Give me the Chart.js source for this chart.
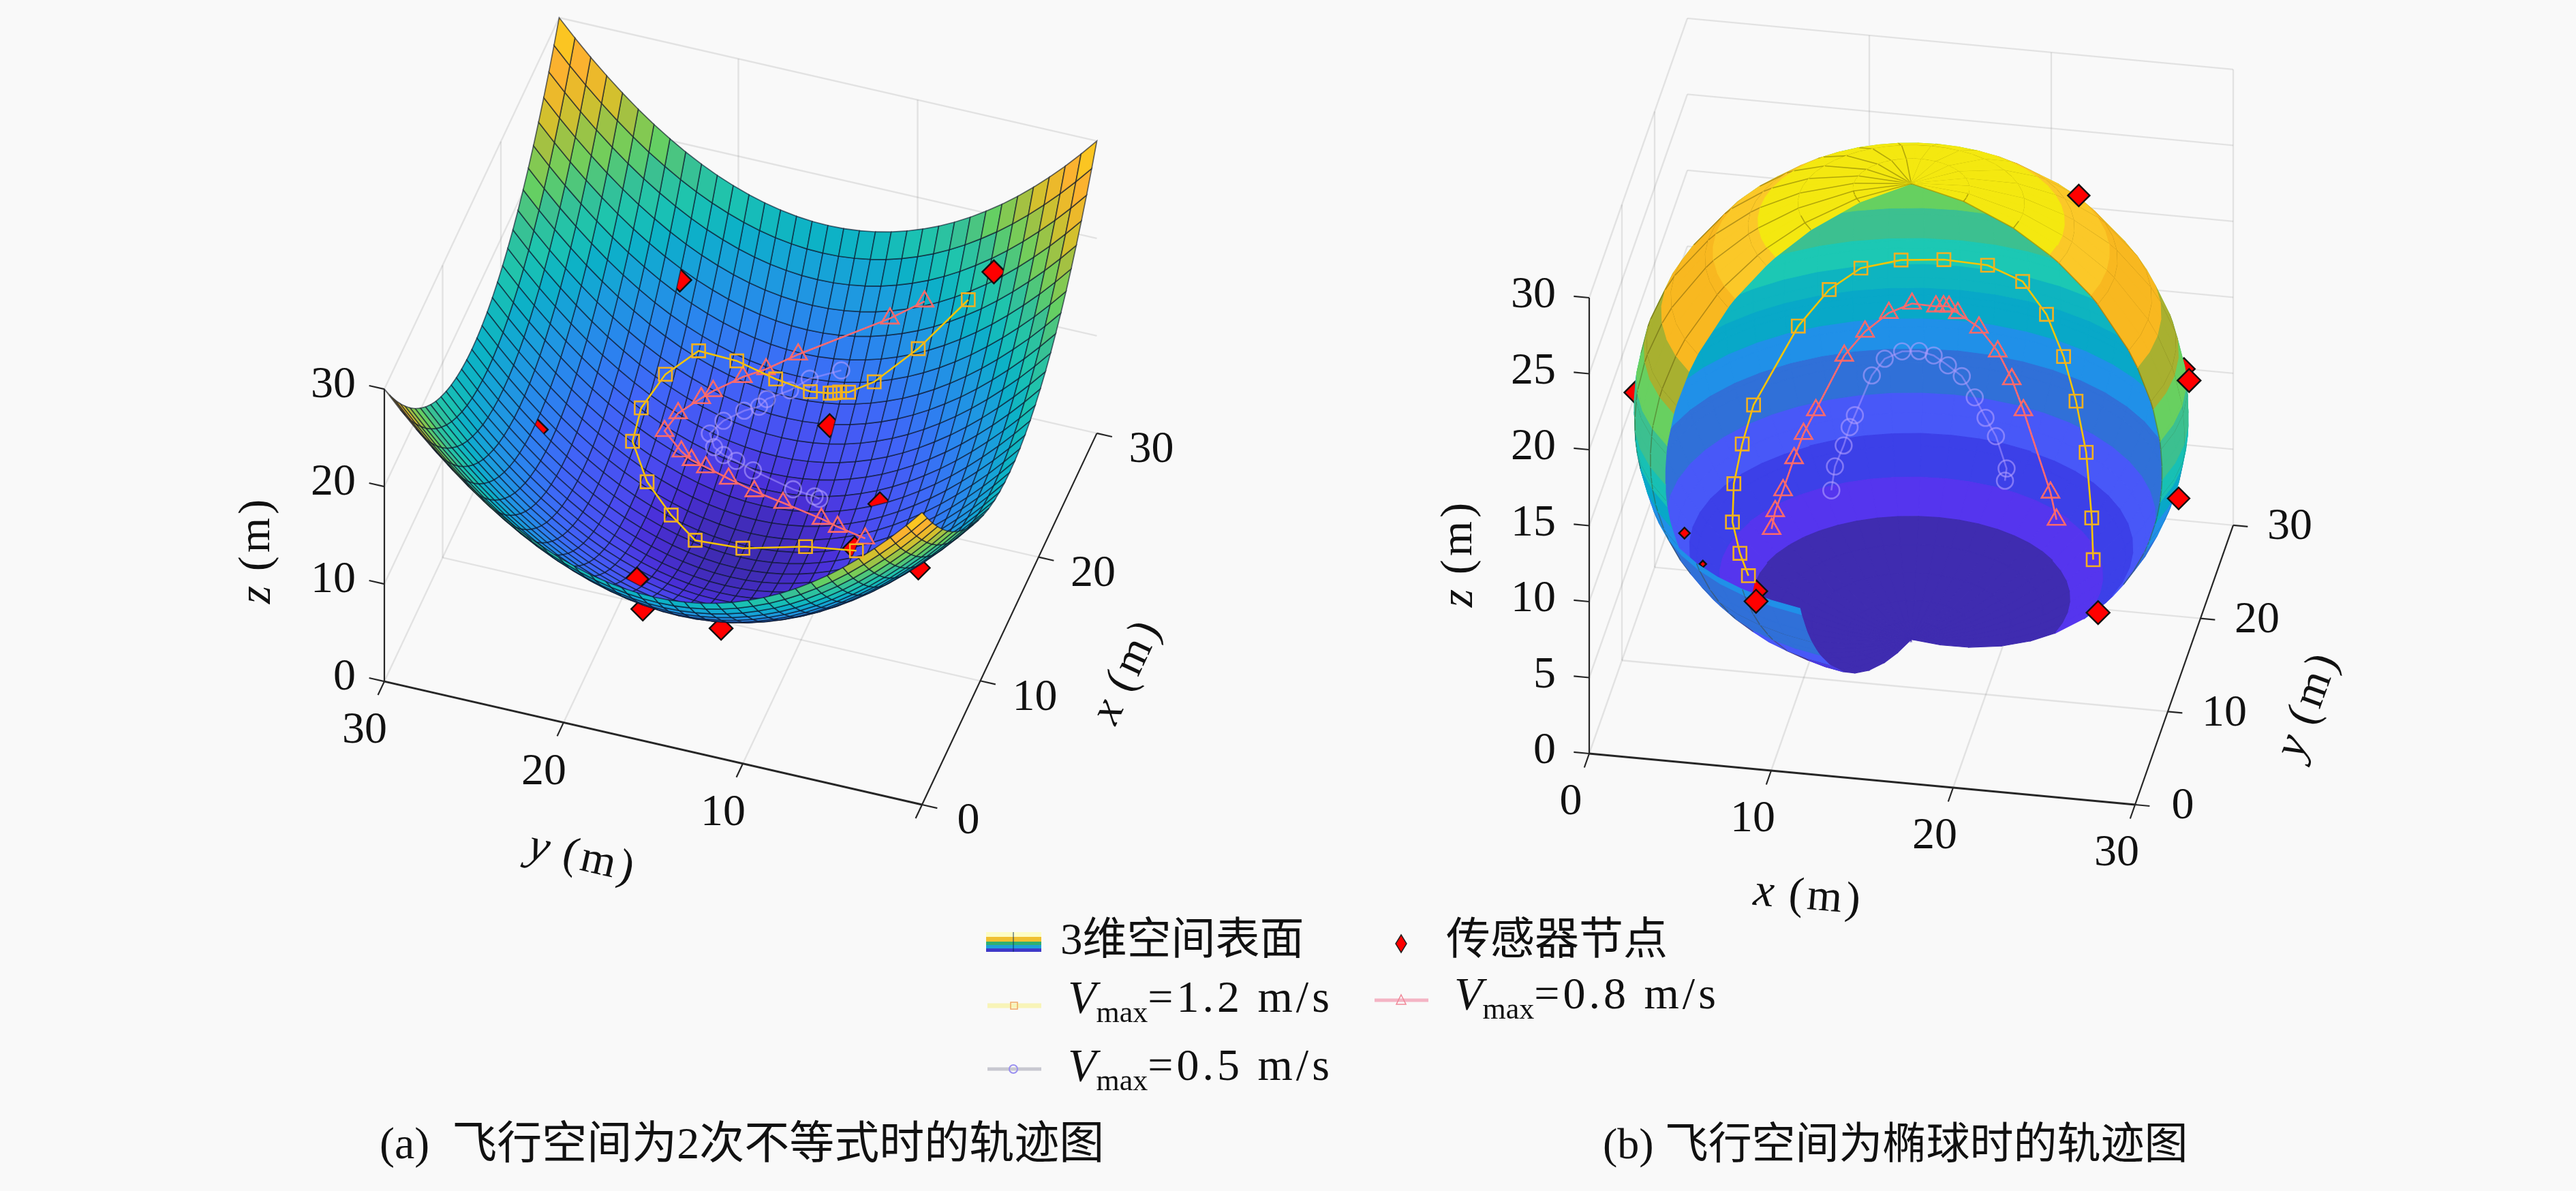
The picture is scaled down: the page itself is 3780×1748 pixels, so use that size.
<!DOCTYPE html>
<html>
<head>
<meta charset="utf-8">
<title>trajectories</title>
<style>
html, body { margin: 0; padding: 0; background: #f9f9f9; }
canvas { display: block; }
</style>
</head>
<body>
<canvas id="trajectory-chart" width="3780" height="1748"></canvas>
<script src="https://cdn.jsdelivr.net/npm/chart.js@4"></script>
<script>
// axis ticks
const ticksA = [0, 10, 20, 30];
const ticksBz = [0, 5, 10, 15, 20, 25, 30];
const ticksB = [0, 10, 20, 30];

// (a) bowl surface: grid positions and height profile read along one edge (m)
const bowlGrid = [0, 0.88, 1.76, 2.65, 3.53, 4.41, 5.29, 6.18, 7.06, 7.94, 8.82, 9.71, 10.59, 11.47, 12.35, 13.24, 14.12, 15, 15.88, 16.76, 17.65, 18.53, 19.41, 20.29, 21.18, 22.06, 22.94, 23.82, 24.71, 25.59, 26.47, 27.35, 28.24, 29.12, 30];
const bowlProfile = [15, 13.29, 11.68, 10.17, 8.77, 7.47, 6.28, 5.19, 4.2, 3.32, 2.54, 1.87, 1.3, 0.83, 0.47, 0.21, 0.05, 0, 0.05, 0.21, 0.47, 0.83, 1.3, 1.87, 2.54, 3.32, 4.2, 5.19, 6.28, 7.47, 8.77, 10.17, 11.68, 13.29, 15];
const bowlColorZ = [0, 1.5, 3, 6, 9, 12, 14, 16, 18.3, 20, 22.4, 24, 26.5, 28.5, 30];
const bowlColors = ['#3e2bb0', '#4a2fd8', '#4a4cf0', '#4065f8', '#2a85ee', '#1a9fdc', '#0cb0c8', '#1cc4b0', '#3cc090', '#68d060', '#a8c040', '#e0c028', '#fbb030', '#fbc820', '#f4ec10'];

// (a) trajectories
const aSquareX = [27.0, 25.8, 24.7, 24.3, 24.3, 24.3, 24.2, 24.2, 24.4, 24.5, 24.1, 22.4, 20.4, 18.6, 17.1, 16.0, 15.2, 15.7, 16.3, 15.5];
const aSquareY = [6.2, 8.6, 10.7, 12.0, 12.5, 12.8, 13.0, 14.1, 16.1, 18.3, 20.3, 21.6, 22.3, 22.2, 20.9, 19.2, 17.6, 15.1, 11.8, 8.7];
const aSquareZ = [14.9, 10.4, 7.5, 6.4, 6.2, 6.0, 6.0, 5.7, 5.9, 6.7, 7.4, 6.6, 5.4, 4.3, 2.6, 1.3, 0.4, 0.0, 0.8, 2.7];
const aTriangleX = [27.5, 27.1, 25.5, 24.6, 24.0, 22.9, 22.4, 21.2, 20.1, 19.6, 19.5, 19.5, 19.4, 19.2, 18.9, 18.1, 17.5, 16.4];
const aTriangleY = [8.8, 10.6, 15.2, 16.7, 17.8, 19.1, 19.6, 20.5, 20.9, 19.8, 19.2, 18.4, 17.1, 15.6, 13.9, 11.5, 10.4, 8.5];
const aTriangleZ = [13.0, 11.0, 7.4, 6.4, 5.9, 5.3, 5.0, 4.6, 4.0, 3.0, 2.5, 2.1, 1.6, 1.2, 1.1, 1.5, 1.9, 2.9];
const aCircleX = [25.2, 24.7, 24.1, 23.5, 23.1, 22.7, 21.9, 21.1, 20.6, 20.4, 20.4, 20.2, 19.7, 19.4, 19.3];
const aCircleY = [12.7, 14.3, 15.2, 16.3, 16.6, 17.3, 18.2, 18.7, 18.3, 17.7, 17.0, 16.0, 13.6, 12.3, 12.0];
const aCircleZ = [7.2, 6.3, 5.5, 4.9, 4.5, 4.3, 3.9, 3.4, 2.8, 2.5, 2.2, 1.9, 1.6, 1.8, 1.8];
const aNodeX = [26.1, 27.4, 15.0, 22.9, 18.6, 15.8, 9.2, 9.6, 9.5, 17.2];
const aNodeY = [22.0, 4.9, 26.4, 12.6, 8.4, 8.9, 18.9, 18.7, 14.3, 5.8];
const aNodeZ = [11.4, 17.8, 8.3, 4.5, 3.7, 2.5, 3.5, 0, 0, 0];

// (b) ellipsoid: ring heights, ring radii and longitude table
const ringZ = [30, 29.67, 28.7, 27.5, 27.14, 25.5, 25.04, 22.5, 21.5, 19.5, 19, 17.2, 17, 16.5, 15.4, 14.5, 13.85, 13.4, 13, 12, 11.5, 10.3, 10, 9.5, 8, 7, 6.06, 5.5, 4.2, 2.73, 1.8, 1, 0.4, 0.1, 0];
const ringR = [0, 3.13, 6.11, 8.29, 8.81, 10.72, 11.14, 12.99, 13.52, 14.31, 14.46, 14.84, 14.87, 14.92, 14.99, 14.99, 14.96, 14.91, 14.87, 14.7, 14.58, 14.24, 14.14, 13.96, 13.27, 12.69, 12.04, 11.61, 10.41, 8.63, 7.13, 5.39, 3.44, 1.73, 0];
const gridRingZ = [29.67, 28.7, 27.14, 25.04, 22.5, 19.5, 16.5, 13.4, 10.3, 7, 4.2, 1.8];
const lonCos = [1, 0.9914, 0.9659, 0.9239, 0.866, 0.7934, 0.7071, 0.6088, 0.5, 0.3827, 0.2588, 0.1305, 0, -0.1305, -0.2588, -0.3827, -0.5, -0.6088, -0.7071, -0.7934, -0.866, -0.9239, -0.9659, -0.9914, -1, -0.9914, -0.9659, -0.9239, -0.866, -0.7934, -0.7071, -0.6088, -0.5, -0.3827, -0.2588, -0.1305, 0, 0.1305, 0.2588, 0.3827, 0.5, 0.6088, 0.7071, 0.7934, 0.866, 0.9239, 0.9659, 0.9914];
// wedge removed from the shell, as longitude cell indices, below and above z = 10
const cutSplitZ = 10;
const cutFrom = [34, 29];
const cutTo = [46, 46];
const insideBandZ = [2.73, 4.2, 6.06, 8, 10.3, 12, 13.85, 15.4, 17.2, 19.5, 30];
const insideColors = ['#3f2cb0', '#5535ee', '#3c40e8', '#4858f8', '#3070d8', '#2090e8', '#08a8c8', '#0eb4c0', '#1cc8b4', '#3cc090', '#66d060'];
const outsideBandZ = [2.73, 4.2, 5.5, 9.5, 11.5, 13, 14.5, 17, 19, 21.5, 25.5, 27.5, 30];
const outsideColors = ['#3f2cb0', '#4a3ae0', '#4858f8', '#3070d8', '#2090e8', '#08a8c8', '#18c0b4', '#3cc090', '#68d060', '#a8b030', '#f8b820', '#fbc828', '#f4e810'];

// (b) trajectories
const bSquareX = [6.0, 5.3, 4.6, 4.3, 4.4, 4.7, 6.6, 8.1, 9.7, 11.8, 14.1, 16.5, 18.5, 19.9, 21.0, 21.9, 22.8, 23.7, 24.3];
const bSquareY = [15.3, 16.6, 18.2, 20.3, 22.3, 24.1, 27.2, 28.3, 29.1, 29.7, 30.0, 30.0, 29.6, 29.1, 28.2, 27.0, 25.1, 21.8, 18.9];
const bSquareZ = [3.0, 3.6, 4.6, 5.8, 7.2, 8.7, 12.2, 14.1, 15.2, 15.6, 15.7, 15.6, 15.0, 13.3, 11.2, 9.1, 7.0, 4.8, 3.9];
const bTriangleX = [6.5, 6.5, 6.7, 7.0, 7.3, 7.8, 9.0, 10.0, 11.2, 12.4, 13.7, 14.1, 14.4, 14.9, 16.1, 17.2, 18.1, 18.9, 21.0, 21.6];
const bTriangleY = [19.6, 20.7, 22.0, 23.7, 24.9, 25.9, 27.9, 28.7, 29.3, 29.7, 29.8, 29.9, 29.9, 29.8, 29.6, 29.2, 28.5, 27.6, 24.2, 22.7];
const bTriangleZ = [3.5, 4.0, 4.6, 5.7, 6.6, 7.6, 10.1, 11.3, 12.3, 12.8, 12.7, 12.7, 12.7, 12.4, 11.7, 10.5, 9.2, 7.8, 4.7, 3.9];
const bCircleX = [9.1, 9.1, 9.4, 9.6, 9.8, 10.5, 11.1, 12.0, 12.9, 13.7, 14.5, 15.3, 16.1, 16.8, 17.5, 18.3, 18.3];
const bCircleY = [23.4, 24.5, 25.5, 26.2, 26.7, 28.0, 28.6, 28.9, 29.1, 29.1, 29.0, 28.8, 28.3, 27.7, 27.0, 25.8, 25.3];
const bCircleZ = [4.0, 4.9, 5.7, 6.5, 7.0, 8.9, 9.7, 10.1, 10.1, 9.9, 9.4, 8.9, 7.9, 7.0, 6.3, 5.0, 4.5];
const bNodeX = [23.4, 30.2, 30.2, 4.3, 5.4, 8.9, 26.6, 29.2, 0.1, 6.6];
const bNodeY = [19.5, 15.4, 12.2, 5.2, 4.7, 1.5, 7.6, 19.4, 13.5, 14.4];
const bNodeZ = [27.4, 18.5, 12.7, 11.8, 10.2, 10.1, 7.6, 16.7, 15.5, 2.6];
const bNodeRadius = [16, 17, 16, 8, 5, 17, 17, 16, 16, 16];

// camera of each panel, pixels per metre on the page
const viewA = { o: [1353, 1181], ex: [8.55, -18.17], ey: [-26.3, -6.03], ez: [0, -14.3] };
const viewB = { o: [2332, 1106], ex: [26.7, 2.5], ey: [4.8, -13.67], ez: [0, -22.3] };

function project(v, x, y, z) {
    return {
        x: v.o[0] + v.ex[0] * x + v.ey[0] * y + v.ez[0] * z,
        y: v.o[1] + v.ex[1] * x + v.ey[1] * y + v.ez[1] * z
    };
}
// toward the viewer
function depthOf(v, x, y, z) {
    const a = [v.ex[0], v.ey[0], v.ez[0]];
    const b = [-v.ex[1], -v.ey[1], -v.ez[1]];
    return (a[1] * b[2] - a[2] * b[1]) * x + (a[2] * b[0] - a[0] * b[2]) * y + (a[0] * b[1] - a[1] * b[0]) * z;
}
function hexToRgb(h) {
    return [1, 3, 5].map(i => parseInt(h.slice(i, i + 2), 16));
}
function bowlColor(z) {
    let i = 0;
    while (i < bowlColorZ.length - 2 && z > bowlColorZ[i + 1]) i++;
    const t = Math.min(1, (z - bowlColorZ[i]) / (bowlColorZ[i + 1] - bowlColorZ[i]));
    const c0 = hexToRgb(bowlColors[i]), c1 = hexToRgb(bowlColors[i + 1]);
    return 'rgb(' + c0.map((c, k) => Math.round(c + (c1[k] - c) * t)).join(',') + ')';
}
function bandColor(z, bands, colors) {
    let i = 0;
    while (i < bands.length - 1 && z > bands[i]) i++;
    return colors[i];
}
function polygon(points, fill, stroke, width) {
    return {
        data: points, showLine: true, fill: 'shape', backgroundColor: fill,
        borderColor: stroke, borderWidth: width, pointRadius: 0, tension: 0
    };
}
function polyline(points, color, width) {
    return {
        data: points, showLine: true, fill: false, borderColor: color,
        borderWidth: width, pointRadius: 0, tension: 0
    };
}
function zipPoints(v, xs, ys, zs) {
    return xs.map((x, i) => project(v, x, ys[i], zs[i]));
}
function track(v, xs, ys, zs, lineColor, markerColor, style, radius) {
    return {
        data: zipPoints(v, xs, ys, zs), showLine: true, fill: false, tension: 0,
        borderColor: lineColor, borderWidth: 2.6,
        pointStyle: style, pointRadius: radius, pointBorderColor: markerColor,
        pointBorderWidth: 2.6, pointBackgroundColor: 'rgba(0,0,0,0)'
    };
}
function nodeDataset(point, radius) {
    return {
        data: [point], showLine: false, pointStyle: 'rectRot', pointRadius: radius,
        pointBackgroundColor: '#ff0000', pointBorderColor: '#111', pointBorderWidth: 2.4
    };
}

// painter's order: nearest first, because Chart.js draws the first dataset on top
function byDepth(items) {
    return items.sort((a, b) => b.depth - a.depth).map(it => it.ds);
}

function bowlDatasets() {
    const items = [];
    const n = bowlGrid.length;
    for (let i = 0; i < n - 1; i++) {
        for (let j = 0; j < n - 1; j++) {
            const corners = [[i, j], [i + 1, j], [i + 1, j + 1], [i, j + 1], [i, j]].map(([a, b]) =>
                [bowlGrid[a], bowlGrid[b], bowlProfile[a] + bowlProfile[b]]);
            const mid = [0, 1, 2].map(k => (corners[0][k] + corners[1][k] + corners[2][k] + corners[3][k]) / 4);
            items.push({
                depth: depthOf(viewA, mid[0], mid[1], mid[2]),
                ds: polygon(corners.map(c => project(viewA, c[0], c[1], c[2])), bowlColor(mid[2]), 'rgba(10,20,40,0.62)', 1.7)
            });
        }
    }
    aNodeX.forEach((x, i) => {
        items.push({
            depth: depthOf(viewA, x, aNodeY[i], aNodeZ[i]) + 120,
            ds: nodeDataset(project(viewA, x, aNodeY[i], aNodeZ[i]), 17)
        });
    });
    return byDepth(items);
}

function shellPoint(ring, lon) {
    const r = ringR[ring];
    const c = lonCos[lon % lonCos.length];
    const s = lonCos[(lon + 36) % lonCos.length];
    return [15 + r * c, 15 + r * s, ringZ[ring]];
}
function shellDatasets() {
    const items = [];
    const nLon = lonCos.length;
    for (let r = 0; r < ringZ.length - 1; r++) {
        const zMid = (ringZ[r] + ringZ[r + 1]) / 2;
        const part = zMid < cutSplitZ ? 0 : 1;
        for (let l = 0; l < nLon; l++) {
            if (l >= cutFrom[part] && l < cutTo[part]) continue;
            const a = shellPoint(r, l), b = shellPoint(r, l + 1), c = shellPoint(r + 1, l + 1), d = shellPoint(r + 1, l);
            const mid = [0, 1, 2].map(k => (a[k] + b[k] + c[k] + d[k]) / 4);
            const depth = depthOf(viewB, mid[0], mid[1], mid[2]);
            const facing = depth > depthOf(viewB, 15, 15, 15);
            const color = facing ? bandColor(zMid, outsideBandZ, outsideColors) : bandColor(zMid, insideBandZ, insideColors);
            items.push({
                depth: depth,
                ds: polygon([a, b, c, d, a].map(p => project(viewB, p[0], p[1], p[2])), color, color, 1.2)
            });
            if (!facing) continue;
            const gridColor = 'rgba(70,60,0,0.38)';
            if (l % 2 === 0) {
                items.push({ depth: depth + 1, ds: polyline([a, d].map(p => project(viewB, p[0], p[1], p[2])), gridColor, 1.6) });
            }
            if (gridRingZ.includes(ringZ[r])) {
                items.push({ depth: depth + 1, ds: polyline([a, b].map(p => project(viewB, p[0], p[1], p[2])), gridColor, 1.6) });
            }
        }
    }
    bNodeX.forEach((x, i) => {
        items.push({
            depth: depthOf(viewB, x, bNodeY[i], bNodeZ[i]),
            ds: nodeDataset(project(viewB, x, bNodeY[i], bNodeZ[i]), bNodeRadius[i])
        });
    });
    return byDepth(items);
}

// light grid on the floor and on the two back walls
function gridDatasets(v, xWall, yWall, xTicks, yTicks, zTicks) {
    const out = [];
    const color = 'rgba(0,0,0,0.09)';
    const seg = (a, b) => out.push(polyline([project(v, a[0], a[1], a[2]), project(v, b[0], b[1], b[2])], color, 2.4));
    const otherX = xWall === 0 ? 30 : 0;
    const otherY = yWall === 0 ? 30 : 0;
    xTicks.forEach(t => {
        seg([t, otherY, 0], [t, yWall, 0]);
        seg([t, yWall, 0], [t, yWall, 30]);
    });
    yTicks.forEach(t => {
        seg([otherX, t, 0], [xWall, t, 0]);
        seg([xWall, t, 0], [xWall, t, 30]);
    });
    zTicks.forEach(t => {
        seg([xWall, otherY, t], [xWall, yWall, t]);
        seg([xWall, yWall, t], [otherX, yWall, t]);
    });
    return out;
}

function axisDatasets(v, xAxis, yAxis, zAxis) {
    const out = [];
    const color = '#262626';
    [xAxis, yAxis, zAxis].forEach(ax => {
        const p = t => {
            const q = ax.at.slice();
            q[ax.dim] = t;
            return q;
        };
        const a = p(0), b = p(30);
        out.push(polyline([project(v, a[0], a[1], a[2]), project(v, b[0], b[1], b[2])], color, ax.width));
        ax.ticks.forEach(t => {
            const s = p(t);
            const e = s.map((c, k) => c + ax.tick[k]);
            out.push(polyline([project(v, s[0], s[1], s[2]), project(v, e[0], e[1], e[2])], color, 2.2));
        });
    });
    return out;
}

const axesA = {
    x: { dim: 0, at: [0, 0, 0], ticks: ticksA, tick: [0, -0.85, 0], width: 2.2 },
    y: { dim: 1, at: [0, 0, 0], ticks: ticksA, tick: [-1.1, 0, 0], width: 3 },
    z: { dim: 2, at: [0, 30, 0], ticks: ticksA, tick: [0, 0.85, 0], width: 2.2 }
};
const axesB = {
    x: { dim: 0, at: [0, 0, 0], ticks: ticksB, tick: [0, -1.5, 0], width: 3 },
    y: { dim: 1, at: [30, 0, 0], ticks: ticksB, tick: [0.8, 0, 0], width: 2.2 },
    z: { dim: 2, at: [0, 0, 0], ticks: ticksBz, tick: [-0.85, 0, 0], width: 2.2 }
};

const squareLine = '#f7c400', squareMark = '#f4b020';
const triLine = '#ff6a70', triMark = '#ff6a6a';
const circleLine = 'rgba(170,150,255,0.55)', circleMark = 'rgba(176,158,255,0.6)';

const datasets = [
    ...axisDatasets(viewA, axesA.x, axesA.y, axesA.z),
    ...axisDatasets(viewB, axesB.x, axesB.y, axesB.z),
    track(viewA, aSquareX, aSquareY, aSquareZ, squareLine, squareMark, 'rect', 13.5),
    track(viewA, aTriangleX, aTriangleY, aTriangleZ, triLine, triMark, 'triangle', 15),
    track(viewA, aCircleX, aCircleY, aCircleZ, circleLine, circleMark, 'circle', 12),
    track(viewB, bSquareX, bSquareY, bSquareZ, squareLine, squareMark, 'rect', 13.5),
    track(viewB, bTriangleX, bTriangleY, bTriangleZ, triLine, triMark, 'triangle', 15),
    track(viewB, bCircleX, bCircleY, bCircleZ, circleLine, circleMark, 'circle', 12),
    ...bowlDatasets(),
    ...shellDatasets(),
    ...gridDatasets(viewA, 30, 30, [10, 20], [10, 20], [0, 10, 20, 30]),
    ...gridDatasets(viewB, 0, 30, [10, 20, 30], [10, 20], [0, 5, 10, 15, 20, 25, 30])
];

// text: tick labels, axis titles, legend and captions
const SERIF = '"Liberation Serif", "Noto Sans CJK SC"';
function runsWidth(ctx, runs) {
    return runs.reduce((w, r) => {
        ctx.font = r.font;
        ctx.letterSpacing = r.spacing || '0px';
        return w + ctx.measureText(r.text).width;
    }, 0);
}
function drawRuns(ctx, runs, x, y, angle, align) {
    ctx.save();
    ctx.translate(x, y);
    ctx.rotate((angle || 0) * Math.PI / 180);
    ctx.fillStyle = '#111';
    ctx.textBaseline = 'middle';
    ctx.textAlign = 'left';
    const total = runsWidth(ctx, runs);
    let cx = align === 'left' ? 0 : -total / 2;
    runs.forEach(r => {
        ctx.font = r.font;
        ctx.letterSpacing = r.spacing || '0px';
        ctx.fillText(r.text, cx, r.dy || 0);
        cx += ctx.measureText(r.text).width;
    });
    ctx.restore();
}
function plain(text, size) {
    return [{ text: text, font: (size || 66) + 'px ' + SERIF }];
}
function axisTitle(letter) {
    return [{ text: letter, font: 'italic 68px ' + SERIF }, { text: ' (m)', font: '66px ' + SERIF, spacing: '5px' }];
}
function vmax(value) {
    return [
        { text: 'V', font: 'italic 68px ' + SERIF },
        { text: 'max', font: '44px ' + SERIF, dy: 20 },
        { text: '=' + value + ' m/s', font: '66px ' + SERIF, spacing: '5px' }
    ];
}
function legendLine(ctx, x0, x1, y, color, width) {
    ctx.strokeStyle = color;
    ctx.lineWidth = width;
    ctx.beginPath();
    ctx.moveTo(x0, y);
    ctx.lineTo(x1, y);
    ctx.stroke();
}

const textPlugin = {
    id: 'figureText',
    afterDraw(chart) {
        const ctx = chart.ctx;
        const sx = chart.scales.x, sy = chart.scales.y;
        const at = (v, p, dx, dy, text, align) => {
            const q = project(v, p[0], p[1], p[2]);
            const px = sx.getPixelForValue(q.x) + dx, py = sy.getPixelForValue(q.y) + dy;
            if (align === 'right') {
                const w = runsWidth(ctx, plain(text));
                drawRuns(ctx, plain(text), px - w, py, 0, 'left');
            } else {
                drawRuns(ctx, plain(text), px, py, 0);
            }
        };
        // panel a
        ticksA.forEach(t => at(viewA, [t, 0, 0], t === 0 ? 68 : 80, 25, String(t)));
        ticksA.filter(t => t > 0).forEach(t => at(viewA, [0, t, 0], -29, 73, String(t)));
        ticksA.forEach(t => at(viewA, [0, 30, t], -42, -5, String(t), 'right'));
        drawRuns(ctx, axisTitle('y'), 855, 1260, 13);
        drawRuns(ctx, axisTitle('x'), 1655, 985, -65);
        drawRuns(ctx, axisTitle('z'), 378, 807, -90);
        // panel b
        ticksB.forEach(t => at(viewB, [t, 0, 0], -27, 72, String(t)));
        ticksB.forEach(t => at(viewB, [30, t, 0], t === 0 ? 70 : 83, 3, String(t)));
        ticksBz.forEach(t => at(viewB, [0, 0, t], -49, -3, String(t), 'right'));
        drawRuns(ctx, axisTitle('x'), 2654, 1317, 5);
        drawRuns(ctx, axisTitle('y'), 3388, 1034, -70);
        drawRuns(ctx, axisTitle('z'), 2142, 812, -90);

        // legend, first column
        [['#fdfdc4', 1368, 7], ['#f0c030', 1375, 7], ['#30b070', 1382, 5], ['#20a0d8', 1387, 5], ['#4038c8', 1392, 5]].forEach(s => {
            ctx.fillStyle = s[0];
            ctx.fillRect(1447, s[1], 81, s[2]);
        });
        ctx.fillStyle = 'rgba(0,40,90,0.45)';
        ctx.fillRect(1486, 1368, 2, 29);
        drawRuns(ctx, plain('3维空间表面', 65), 1556, 1383, 0, 'left');

        legendLine(ctx, 1449, 1528, 1476, '#f8f4b8', 7);
        ctx.strokeStyle = '#f0a860';
        ctx.lineWidth = 1.5;
        ctx.strokeRect(1483, 1471, 10, 10);
        drawRuns(ctx, vmax('1.2'), 1567, 1468, 0, 'left');

        legendLine(ctx, 1449, 1528, 1569, '#c8c8d0', 5);
        ctx.strokeStyle = '#9a90f0';
        ctx.lineWidth = 2;
        ctx.beginPath();
        ctx.arc(1487, 1569, 6, 0, Math.PI * 2);
        ctx.stroke();
        drawRuns(ctx, vmax('0.5'), 1567, 1568, 0, 'left');

        // legend, second column
        ctx.fillStyle = '#ff0000';
        ctx.strokeStyle = '#222';
        ctx.lineWidth = 1.5;
        ctx.beginPath();
        ctx.moveTo(2056, 1372);
        ctx.lineTo(2064, 1385);
        ctx.lineTo(2056, 1398);
        ctx.lineTo(2048, 1385);
        ctx.closePath();
        ctx.fill();
        ctx.stroke();
        drawRuns(ctx, plain('传感器节点', 65), 2122, 1383, 0, 'left');

        legendLine(ctx, 2017, 2096, 1468, '#f4b4c4', 5);
        ctx.strokeStyle = '#f08898';
        ctx.lineWidth = 1.5;
        ctx.beginPath();
        ctx.moveTo(2056, 1460);
        ctx.lineTo(2063, 1474);
        ctx.lineTo(2049, 1474);
        ctx.closePath();
        ctx.stroke();
        drawRuns(ctx, vmax('0.8'), 2134, 1463, 0, 'left');

        // captions
        drawRuns(ctx, plain('(a)  飞行空间为2次不等式时的轨迹图'), 557, 1683, 0, 'left');
        drawRuns(ctx, plain('(b) 飞行空间为椭球时的轨迹图', 64), 2352, 1683, 0, 'left');
    }
};

const trajectoryChart = new Chart(document.getElementById('trajectory-chart').getContext('2d'), {
    type: 'scatter',
    data: { datasets: datasets },
    options: {
        responsive: false,
        devicePixelRatio: 1,
        animation: false,
        events: [],
        layout: { padding: 0, autoPadding: false },
        clip: false,
        scales: {
            x: { type: 'linear', display: false, min: 0, max: 3780 },
            y: { type: 'linear', display: false, min: 0, max: 1748, reverse: true }
        },
        plugins: {
            legend: { display: false },
            tooltip: { enabled: false },
            filler: { propagate: false }
        }
    },
    plugins: [textPlugin]
});
</script>
</body>
</html>
